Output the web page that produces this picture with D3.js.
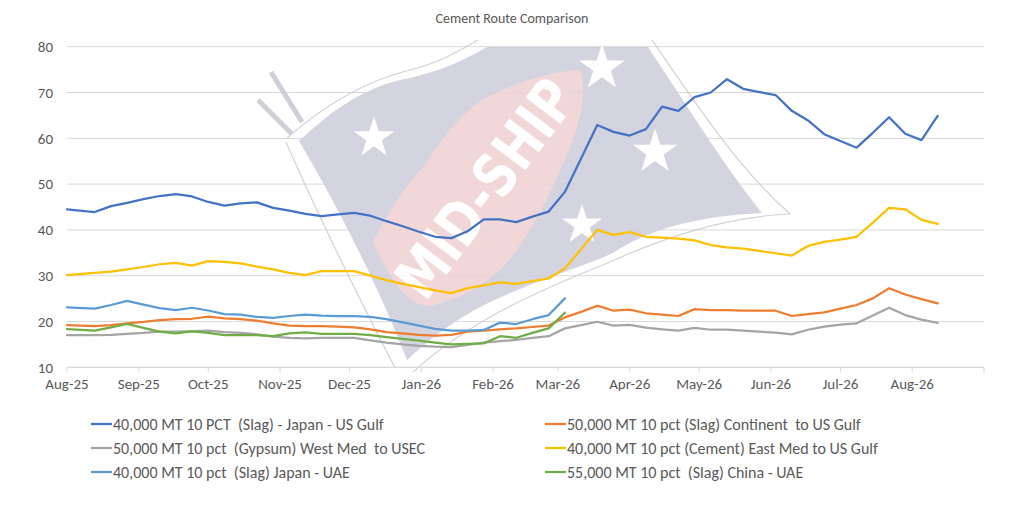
<!DOCTYPE html>
<html>
<head>
<meta charset="utf-8">
<script src="https://cdn.jsdelivr.net/npm/d3@7"></script>
<style>
  body { margin: 0; background: #fff; }
  svg text { font-family: Carlito, Calibri, Lato, sans-serif; fill: #595959; white-space: pre; }
</style>
</head>
<body>
<svg id="chart" width="1024" height="507"></svg>
<script>
// weekly quotes (first point is the month start)
var dates = ["2025-08-01", "2025-08-13", "2025-08-20", "2025-08-27", "2025-09-03", "2025-09-10",
    "2025-09-17", "2025-09-24", "2025-10-01", "2025-10-08", "2025-10-15", "2025-10-22", "2025-10-29",
    "2025-11-05", "2025-11-12", "2025-11-19", "2025-11-26", "2025-12-03", "2025-12-10", "2025-12-17",
    "2025-12-24", "2025-12-31", "2026-01-07", "2026-01-14", "2026-01-21", "2026-01-28", "2026-02-04",
    "2026-02-11", "2026-02-18", "2026-02-25", "2026-03-04", "2026-03-11", "2026-03-18", "2026-03-25",
    "2026-04-01", "2026-04-08", "2026-04-15", "2026-04-22", "2026-04-29", "2026-05-06", "2026-05-13",
    "2026-05-20", "2026-05-27", "2026-06-03", "2026-06-10", "2026-06-17", "2026-06-24", "2026-07-01",
    "2026-07-08", "2026-07-15", "2026-07-22", "2026-07-29", "2026-08-05", "2026-08-12"];

var japanUsGulf = [44.5, 43.9, 45.2, 45.9, 46.7, 47.4, 47.8, 47.3, 46.1, 45.3, 45.8, 46.0, 44.8,
    44.2, 43.5, 43.0, 43.4, 43.7, 43.1, 41.9, 40.8, 39.6, 38.5, 38.2, 39.7, 42.3, 42.3,
    41.7, 42.9, 44.0, 48.3, 55.6, 62.9, 61.4, 60.6, 62.0, 66.9, 66.0, 69.0, 70.0, 72.9,
    70.8, 70.1, 69.45, 66.0, 63.9, 60.9, 59.4, 57.95, 61.2, 64.6, 61.0, 59.6, 64.9];

var continentUsGulf = [19.2, 19.0, 19.2, 19.6, 19.9, 20.3, 20.5, 20.6, 21.05, 20.7, 20.5, 20.2, 19.6,
    19.1, 19.0, 19.0, 18.9, 18.7, 18.3, 17.7, 17.4, 17.1, 16.9, 17.1, 17.8, 18.0, 18.3,
    18.5, 18.8, 19.1, 20.9, 22.1, 23.45, 22.35, 22.6, 21.8, 21.5, 21.2, 22.7, 22.5, 22.5,
    22.4, 22.35, 22.35, 21.2, 21.6, 22.0, 22.8, 23.6, 25.05, 27.25, 25.9, 24.9, 23.95];

var westMedUsec = [17.05, 17.05, 17.1, 17.3, 17.5, 17.8, 17.8, 17.9, 18.0, 17.7, 17.5, 17.2, 16.7,
    16.4, 16.3, 16.4, 16.4, 16.4, 15.9, 15.4, 15.0, 14.7, 14.5, 14.4, 14.9, 15.4, 15.7,
    16.0, 16.4, 16.8, 18.5, 19.2, 19.95, 19.1, 19.25, 18.65, 18.3, 18.0, 18.6, 18.2, 18.2,
    18.0, 17.8, 17.55, 17.2, 18.2, 18.9, 19.3, 19.6, 21.3, 23.0, 21.4, 20.4, 19.7];

var eastMedUsGulf = [30.15, 30.6, 30.9, 31.4, 31.9, 32.5, 32.8, 32.2, 33.2, 33.0, 32.7, 32.0, 31.4,
    30.6, 30.15, 31.0, 31.0, 31.0, 30.0, 29.05, 28.2, 27.5, 26.8, 26.2, 27.3, 27.9, 28.55,
    28.2, 28.8, 29.4, 31.6, 35.8, 40.0, 38.9, 39.5, 38.5, 38.3, 38.1, 37.7, 36.7, 36.2,
    35.9, 35.4, 34.9, 34.4, 36.5, 37.4, 37.9, 38.5, 41.6, 44.8, 44.5, 42.2, 41.3];

// these two routes stop at the end of March
var japanUae = [23.1, 22.8, 23.6, 24.5, 23.7, 22.9, 22.5, 23.0, 22.4, 21.6, 21.5, 21.0, 20.8,
    21.2, 21.5, 21.3, 21.2, 21.2, 21.0, 20.5, 19.8, 19.1, 18.4, 18.0, 18.0, 18.15, 19.75,
    19.45, 20.5, 21.4, 25.05];

var chinaUae = [18.35, 18.0, 18.7, 19.45, 18.6, 17.8, 17.4, 17.85, 17.5, 17.05, 17.05, 17.05, 16.8,
    17.4, 17.6, 17.3, 17.3, 17.3, 17.0, 16.6, 16.2, 15.8, 15.4, 15.0, 15.1, 15.25, 16.8,
    16.45, 17.5, 18.5, 21.9];

var seriesNames = ["40,000 MT 10 PCT  (Slag) - Japan - US Gulf",
    "50,000 MT 10 pct (Slag) Continent  to US Gulf",
    "50,000 MT 10 pct  (Gypsum) West Med  to USEC",
    "40,000 MT 10 pct (Cement) East Med to US Gulf",
    "40,000 MT 10 pct  (Slag) Japan - UAE",
    "55,000 MT 10 pct  (Slag) China - UAE"];
var seriesValues = [japanUsGulf, continentUsGulf, westMedUsec, eastMedUsGulf, japanUae, chinaUae];
var seriesColors = ["#4472c4", "#ed7d31", "#a5a5a5", "#ffc000", "#5b9bd5", "#70ad47"];

var yTicks = [10, 20, 30, 40, 50, 60, 70, 80];

var svg = d3.select("#chart");
var parse = d3.utcParse("%Y-%m-%d");
var plotLeft = 67, plotRight = 984, plotTop = 46.7, plotBottom = 367.3;

var x = d3.scaleUtc()
    .domain([parse("2025-08-01"), parse("2026-09-01")])
    .range([plotLeft, plotRight]);
var y = d3.scaleLinear().domain([10, 80]).range([plotBottom, plotTop]);

svg.append("text")
    .attr("x", 512).attr("y", 23)
    .attr("text-anchor", "middle")
    .style("font-size", "14px")
    .text("Cement Route Comparison");

// gridlines
svg.append("g")
    .selectAll("line")
    .data(yTicks)
    .enter()
    .append("line")
    .attr("x1", plotLeft).attr("x2", plotRight)
    .attr("y1", function (d) { return y(d); })
    .attr("y2", function (d) { return y(d); })
    .attr("stroke", "#d9d9d9")
    .attr("stroke-width", 1);

// watermark, drawn loosely behind the lines
var wm = svg.append("g").attr("opacity", 0.88);
wm.append("path")
    .attr("d", "M258,100 L292,134 M271,72 L302,122")
    .attr("stroke", "#c9c9d6").attr("stroke-width", 5).attr("fill", "none");
wm.append("path")
    .attr("d", "M299,141 C330,112 360,90 400,80 C440,72 460,62 487,47 L648,47 C690,110 720,160 762,213 " +
        "C700,216 650,228 613,253 C580,268 530,282 480,307 C460,318 440,330 407,360 C380,290 340,210 299,141 Z")
    .attr("fill", "#cfcfdc");
wm.append("path")
    .attr("d", "M287,138 C330,100 370,80 410,70 C440,63 460,50 478,40 M286,142 C320,220 360,300 395,368 " +
        "M413,372 C470,320 540,290 610,262 C680,230 740,216 790,214 M652,40 C700,110 740,170 790,214")
    .attr("stroke", "#cbcbd8").attr("stroke-width", 1.2).attr("fill", "none");
wm.append("path")
    .attr("d", "M373,242 C390,210 405,185 425,165 C440,140 460,115 482,100 C510,85 545,72 580,70 " +
        "C590,95 575,140 560,170 C545,205 530,235 505,265 C480,290 455,300 430,306 C410,305 395,290 373,242 Z")
    .attr("fill", "#f0d2d3");
wm.append("text")
    .attr("text-anchor", "middle")
    .attr("dy", "0.36em")
    .attr("textLength", 255)
    .attr("lengthAdjust", "spacingAndGlyphs")
    .attr("transform", "translate(485,188) rotate(-53)")
    .style("font-family", "'DejaVu Sans Condensed', 'DejaVu Sans', sans-serif")
    .style("font-weight", "bold")
    .style("font-size", "60px")
    .style("fill", "#ffffff")
    .text("MID-SHIP");
var star = d3.symbol().type(d3.symbolStar);
[[374, 138, 520], [602, 68, 650], [655, 152, 620], [582, 225, 500]].forEach(function (s) {
    wm.append("path")
        .attr("d", star.size(s[2])())
        .attr("transform", "translate(" + s[0] + "," + s[1] + ")")
        .attr("fill", "#ffffff");
});

// y labels
svg.append("g")
    .selectAll("text")
    .data(yTicks)
    .enter()
    .append("text")
    .attr("x", 53)
    .attr("y", function (d) { return y(d); })
    .attr("dy", "0.35em")
    .attr("text-anchor", "end")
    .style("font-size", "15px")
    .text(function (d) { return d; });

// x axis
var months = d3.utcMonth.range(parse("2025-08-01"), parse("2026-09-02"));
var xAxis = svg.append("g");
xAxis.append("line")
    .attr("x1", plotLeft).attr("x2", plotRight)
    .attr("y1", plotBottom).attr("y2", plotBottom)
    .attr("stroke", "#d9d9d9");
xAxis.selectAll("line.tick")
    .data(months)
    .enter()
    .append("line")
    .attr("class", "tick")
    .attr("x1", function (d) { return x(d); })
    .attr("x2", function (d) { return x(d); })
    .attr("y1", plotBottom).attr("y2", plotBottom + 5)
    .attr("stroke", "#d9d9d9");
var fmt = d3.utcFormat("%b-%y");
xAxis.selectAll("text")
    .data(months.slice(0, months.length - 1))
    .enter()
    .append("text")
    .attr("x", function (d) { return x(d); })
    .attr("y", 389)
    .attr("text-anchor", "middle")
    .style("font-size", "15px")
    .text(function (d) { return fmt(d); });

// series lines
var line = d3.line()
    .x(function (d) { return x(d.date); })
    .y(function (d) { return y(d.value); });

seriesValues.forEach(function (vals, i) {
    var pts = vals.map(function (v, j) {
        return {date: parse(dates[j]), value: v};
    });
    svg.append("path")
        .datum(pts)
        .attr("d", line)
        .attr("fill", "none")
        .attr("stroke", seriesColors[i])
        .attr("stroke-width", 2.25)
        .attr("stroke-linejoin", "round")
        .attr("stroke-linecap", "round");
});

// legend, two columns
var legend = svg.append("g")
    .selectAll("g")
    .data(seriesNames)
    .enter()
    .append("g")
    .attr("transform", function (d, i) {
        return "translate(" + (i % 2 === 0 ? 91 : 545) + "," + (424 + Math.floor(i / 2) * 24) + ")";
    });
legend.append("line")
    .attr("x1", 0).attr("x2", 21)
    .attr("stroke", function (d, i) { return seriesColors[i]; })
    .attr("stroke-width", 2.25);
legend.append("text")
    .attr("x", 22)
    .attr("dy", "0.35em")
    .style("font-size", "16px")
    .text(function (d) { return d; });
</script>
</body>
</html>
